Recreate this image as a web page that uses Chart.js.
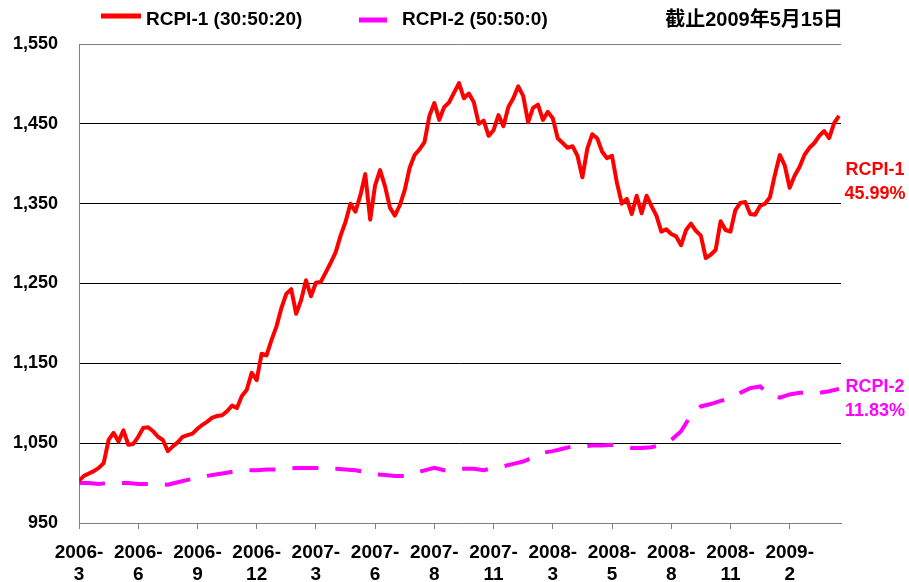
<!DOCTYPE html>
<html>
<head>
<meta charset="utf-8">
<script src="https://cdn.jsdelivr.net/npm/chart.js@4"></script>
<style>
  html, body { margin: 0; padding: 0; background: #fff; }
  #wrap { width: 909px; height: 582px; }
</style>
</head>
<body>
<div id="wrap"><canvas id="rcpiChart" width="909" height="582"></canvas></div>
<script>
// x 轴刻度标签（每 60 个交易日一个刻度）
const tickLabels = ['2006-3', '2006-6', '2006-9', '2006-12', '2007-3', '2007-6', '2007-8',
    '2007-11', '2008-3', '2008-5', '2008-8', '2008-11', '2009-2'];
const tickEvery = 60;

// RCPI-1 (30:50:20)，每 5 个交易日取一个点
const rcpi1Step = 5;
const rcpi1 = [
    1003, 1009, 1012, 1015, 1019, 1025, 1054, 1063, 1052, 1066,
    1048, 1049, 1058, 1069, 1070, 1065, 1058, 1054, 1040, 1046,
    1051, 1058, 1060, 1062, 1068, 1073, 1077, 1082, 1084, 1085,
    1090, 1097, 1094, 1109, 1117, 1138, 1129, 1162, 1160, 1179,
    1196, 1219, 1237, 1243, 1212, 1229, 1254, 1234, 1251, 1252,
    1264, 1276, 1289, 1310, 1327, 1350, 1340, 1360, 1387, 1330,
    1373, 1392, 1372, 1345, 1335, 1348, 1367, 1395, 1411, 1418,
    1427, 1460, 1476, 1455, 1471, 1477, 1489, 1501, 1482, 1488,
    1477, 1450, 1454, 1435, 1442, 1461, 1447, 1471, 1482, 1497,
    1485, 1452, 1470, 1474, 1455, 1465, 1457, 1432, 1426, 1420,
    1422, 1410, 1383, 1419, 1437, 1432, 1415, 1407, 1410, 1376,
    1350, 1356, 1337, 1360, 1338, 1360, 1347, 1335, 1315, 1318,
    1312, 1309, 1298, 1317, 1325, 1316, 1310, 1282, 1286, 1292,
    1328, 1317, 1315, 1342, 1351, 1352, 1337, 1336, 1347, 1350,
    1358, 1386, 1411, 1398, 1370, 1385, 1396, 1411, 1420, 1426,
    1435, 1441, 1432, 1451, 1460
];

// RCPI-2 (50:50:0)，每 10 个交易日取一个点
const rcpi2Step = 10;
const rcpi2 = [
    1000, 1000, 999, 1000, 1000, 1000, 999, 999, 999, 998,
    1001, 1004, 1006, 1009, 1011, 1013, 1015, 1016, 1016, 1017,
    1017, 1018, 1019, 1019, 1019, 1018, 1018, 1017, 1016, 1014,
    1011, 1010, 1009, 1009, 1012, 1016, 1019, 1016, 1015, 1018,
    1018, 1016, 1019, 1021, 1024, 1027, 1032, 1038, 1040, 1043,
    1046, 1046, 1047, 1047, 1048, 1046, 1044, 1044, 1045, 1048,
    1054, 1065, 1085, 1096, 1099, 1103, 1106, 1113, 1119, 1121,
    1110, 1107, 1111, 1113, 1113, 1113, 1115, 1118
];

const seriesNames = ['RCPI-1', 'RCPI-2'];
const seriesWeights = ['(30:50:20)', '(50:50:0)'];
const seriesReturns = ['45.99%', '11.83%'];
const asOfText = '截止2009年5月15日';

const RED = '#FF0000';
const MAGENTA = '#FF00FF';
const FONT = '"Liberation Sans", Arial, "Noto Sans CJK SC", sans-serif';

const toPoints = (arr, step) => arr.map((v, i) => ({ x: i * step, y: v }));

// 图例、日期和右侧标注
const annotatePlugin = {
    id: 'annotate',
    afterDraw(chart) {
        const c = chart.ctx;
        const area = chart.chartArea;
        c.save();

        // legend samples
        c.lineWidth = 5;
        c.strokeStyle = RED;
        c.beginPath(); c.moveTo(101, 16); c.lineTo(141, 16); c.stroke();
        c.strokeStyle = MAGENTA;
        c.beginPath(); c.moveTo(359, 20); c.lineTo(387, 20); c.stroke();

        c.font = 'bold 19px ' + FONT;
        c.fillStyle = '#000';
        c.textBaseline = 'middle';
        c.textAlign = 'left';
        c.fillText(seriesNames[0] + ' ' + seriesWeights[0], 146, 20);
        c.fillText(seriesNames[1] + ' ' + seriesWeights[1], 402, 20);

        c.font = 'bold 20px ' + FONT;
        c.textAlign = 'right';
        c.fillText(asOfText, area.right + 2, 20);

        // end labels on the right
        c.font = 'bold 18px ' + FONT;
        c.textAlign = 'center';
        c.fillStyle = RED;
        c.fillText(seriesNames[0], 875, 170);
        c.fillText(seriesReturns[0], 875, 194);
        c.fillStyle = MAGENTA;
        c.fillText(seriesNames[1], 875, 387);
        c.fillText(seriesReturns[1], 875, 411);
        c.restore();
    }
};

const ctx = document.getElementById('rcpiChart').getContext('2d');
const rcpiChart = new Chart(ctx, {
    type: 'line',
    data: {
        datasets: [
            {
                label: seriesNames[0],
                data: toPoints(rcpi1, rcpi1Step),
                borderColor: RED,
                borderWidth: 4,
                borderJoinStyle: 'round',
                pointRadius: 0,
                tension: 0
            },
            {
                label: seriesNames[1],
                data: toPoints(rcpi2, rcpi2Step),
                borderColor: MAGENTA,
                borderWidth: 4,
                borderDash: [26, 17],
                pointRadius: 0,
                tension: 0
            }
        ]
    },
    options: {
        responsive: false,
        animation: false,
        layout: {
            padding: { top: 44, right: 68, left: 0, bottom: 0 }
        },
        plugins: {
            legend: { display: false },
            tooltip: { enabled: false }
        },
        scales: {
            x: {
                type: 'linear',
                min: 0,
                max: 772,
                afterBuildTicks: scale => {
                    scale.ticks = tickLabels.map((_, i) => ({ value: i * tickEvery }));
                },
                afterFit: scale => { scale.height = 59; },
                grid: {
                    drawOnChartArea: false,
                    drawTicks: true,
                    tickLength: 6,
                    color: '#808080'
                },
                border: { color: '#808080', width: 1 },
                ticks: {
                    autoSkip: false,
                    maxRotation: 0,
                    padding: 12,
                    color: '#000',
                    font: { family: FONT, size: 19, weight: 'bold', lineHeight: 1.2 },
                    callback: (value, index) => {
                        const s = tickLabels[index];
                        const k = s.indexOf('-');
                        return [s.slice(0, k + 1), s.slice(k + 1)];
                    }
                }
            },
            y: {
                min: 950,
                max: 1550,
                afterFit: scale => { scale.width = 79; },
                grid: {
                    drawTicks: false,
                    color: c => (c.tick.value === 1550 || c.tick.value === 950) ? '#808080' : '#000',
                    lineWidth: 1
                },
                border: { color: '#808080', width: 1 },
                ticks: {
                    stepSize: 100,
                    padding: 21,
                    color: '#000',
                    font: { family: FONT, size: 18, weight: 'bold' },
                    callback: v => v.toLocaleString('en-US')
                }
            }
        }
    },
    plugins: [annotatePlugin]
});
</script>
</body>
</html>
